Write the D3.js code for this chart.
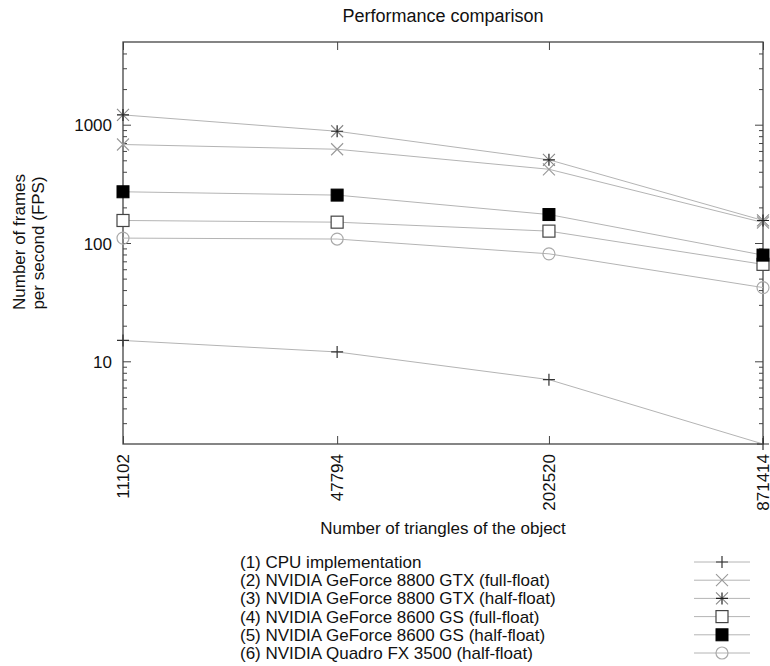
<!DOCTYPE html>
<html><head><meta charset="utf-8">
<script src="https://cdn.jsdelivr.net/npm/d3@7"></script>
<style>body{margin:0;background:#fff}svg{display:block}text{font-family:"Liberation Sans",Arial,sans-serif;fill:#111}</style>
</head><body>
<script>
const triangles = [11102, 47794, 202520, 871414];
const seriesNames = [
  "(1) CPU implementation",
  "(2) NVIDIA GeForce 8800 GTX (full-float)",
  "(3) NVIDIA GeForce 8800 GTX (half-float)",
  "(4) NVIDIA GeForce 8600 GS (full-float)",
  "(5) NVIDIA GeForce 8600 GS (half-float)",
  "(6) NVIDIA Quadro FX 3500 (half-float)"
];
const cpu = [15, 12, 7, 2];
const gtxFull = [680, 620, 420, 149];
const gtxHalf = [1210, 880, 505, 155];
const gsFull = [155, 150, 126, 66];
const gsHalf = [271, 254, 174, 79];
const quadro = [110, 108, 81, 42];
const seriesValues = [cpu, gtxFull, gtxHalf, gsFull, gsHalf, quadro];
const markers = ["plus", "cross", "star", "square", "fsquare", "circle"];
const yTickValues = [10, 100, 1000];
const yDomain = [2, 5000];

const W = 770, H = 666;
const m = {left: 123, right: 7, top: 42, bottom: 222};
const svg = d3.select("body").append("svg").attr("width", W).attr("height", H);
const x = d3.scaleLog().domain([triangles[0], triangles[3]]).range([m.left, W - m.right]);
const y = d3.scaleLog().domain(yDomain).range([H - m.bottom, m.top]);

const frame = "#444";
const FS = 17;
// Title
svg.append("text").attr("x", 443).attr("y", 22).attr("text-anchor", "middle").attr("font-size", 18).text("Performance comparison");

// Axes
const minor = [];
for (let d = 1; d <= 1000; d *= 10) for (let k = 2; k <= 9; k++) { const v = d * k; if (v > yDomain[0] && v < yDomain[1]) minor.push(v); }
const gLeft = svg.append("g").attr("transform", `translate(${m.left},0)`)
  .call(d3.axisRight(y).tickValues(yTickValues).tickSize(8).tickFormat(""));
const gLeft2 = svg.append("g").attr("transform", `translate(${m.left},0)`)
  .call(d3.axisRight(y).tickValues(minor).tickSize(4).tickFormat(""));
const gRight = svg.append("g").attr("transform", `translate(${W - m.right},0)`)
  .call(d3.axisLeft(y).tickValues(yTickValues).tickSize(8).tickFormat(""));
const gRight2 = svg.append("g").attr("transform", `translate(${W - m.right},0)`)
  .call(d3.axisLeft(y).tickValues(minor).tickSize(4).tickFormat(""));
const gBottom = svg.append("g").attr("transform", `translate(0,${H - m.bottom})`)
  .call(d3.axisTop(x).tickValues(triangles).tickSize(8).tickFormat(""));
const gTop = svg.append("g").attr("transform", `translate(0,${m.top})`)
  .call(d3.axisBottom(x).tickValues(triangles).tickSize(8).tickFormat(""));
[gLeft, gLeft2, gRight, gRight2, gBottom, gTop].forEach(g => {
  g.select(".domain").remove();
  g.selectAll("line").attr("stroke", frame).attr("stroke-width", 1);
});
svg.append("rect").attr("x", m.left).attr("y", m.top).attr("width", W - m.right - m.left).attr("height", H - m.bottom - m.top)
  .attr("fill", "none").attr("stroke", frame).attr("stroke-width", 1.3);

// Y tick labels
svg.selectAll(".ylab").data(yTickValues).join("text").attr("x", m.left - 11).attr("y", d => y(d) + 6.5)
  .attr("text-anchor", "end").attr("font-size", FS).text(d => d);
// X tick labels rotated
svg.selectAll(".xlab").data(triangles).join("text")
  .attr("transform", d => `translate(${x(d) + 6},${H - m.bottom + 10}) rotate(-90)`)
  .attr("text-anchor", "end").attr("font-size", FS).text(d => d);

// Axis titles
svg.append("text").attr("x", 443).attr("y", 534).attr("text-anchor", "middle").attr("font-size", FS).text("Number of triangles of the object");
svg.append("text").attr("transform", "translate(25,242) rotate(-90)").attr("text-anchor", "middle").attr("font-size", FS).text("Number of frames");
svg.append("text").attr("transform", "translate(44,243) rotate(-90)").attr("text-anchor", "middle").attr("font-size", FS).text("per second (FPS)");

const lineColor = "#b4b4b4";
const markColor = ["#333", "#999", "#444", "#444", "#000", "#aaa"];
function drawMarker(g, type, cx, cy, col) {
  const s = 6;
  if (type === "plus") {
    g.append("path").attr("d", `M${cx - s},${cy}H${cx + s}M${cx},${cy - s}V${cy + s}`).attr("stroke", col).attr("stroke-width", 1.2);
  } else if (type === "cross") {
    g.append("path").attr("d", `M${cx - s},${cy - s}L${cx + s},${cy + s}M${cx - s},${cy + s}L${cx + s},${cy - s}`).attr("stroke", col).attr("stroke-width", 1.1);
  } else if (type === "star") {
    g.append("path").attr("d", `M${cx - s},${cy - s}L${cx + s},${cy + s}M${cx - s},${cy + s}L${cx + s},${cy - s}`).attr("stroke", "#888").attr("stroke-width", 1.1);
    g.append("path").attr("d", `M${cx - s},${cy}H${cx + s}M${cx},${cy - s}V${cy + s}`).attr("stroke", "#222").attr("stroke-width", 1.2);
  } else if (type === "square") {
    g.append("rect").attr("x", cx - s).attr("y", cy - s).attr("width", 2 * s).attr("height", 2 * s).attr("fill", "#fff").attr("stroke", col).attr("stroke-width", 1.2);
  } else if (type === "fsquare") {
    g.append("rect").attr("x", cx - s).attr("y", cy - s).attr("width", 2 * s).attr("height", 2 * s).attr("fill", col).attr("stroke", col);
  } else if (type === "circle") {
    g.append("circle").attr("cx", cx).attr("cy", cy).attr("r", s).attr("fill", "none").attr("stroke", col).attr("stroke-width", 1.2);
  }
}

const line = d3.line().x((d, i) => x(triangles[i])).y(d => y(d));
const plot = svg.append("g");
seriesValues.forEach((vals, si) => {
  plot.append("path").attr("d", line(vals)).attr("fill", "none").attr("stroke", lineColor).attr("stroke-width", 1);
});
seriesValues.forEach((vals, si) => {
  vals.forEach((v, i) => drawMarker(plot, markers[si], x(triangles[i]), y(v), markColor[si]));
});

// Legend
const leg = svg.append("g");
seriesNames.forEach((name, i) => {
  const ly = 562 + i * 18.2;
  leg.append("text").attr("x", 240).attr("y", ly + 6).attr("font-size", FS).text(name);
  leg.append("line").attr("x1", 694).attr("x2", 750).attr("y1", ly).attr("y2", ly).attr("stroke", lineColor).attr("stroke-width", 1);
  drawMarker(leg, markers[i], 722, ly, markColor[i]);
});
</script>
</body></html>
